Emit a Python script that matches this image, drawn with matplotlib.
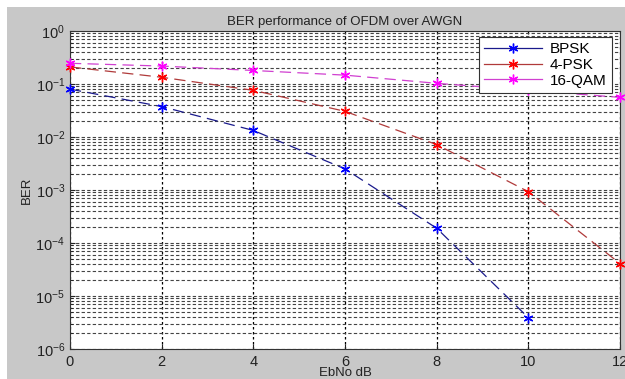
import matplotlib
matplotlib.use("Agg")
import matplotlib.pyplot as plt
from matplotlib.lines import Line2D
from matplotlib.patches import Rectangle
import numpy as np

plt.rcParams['font.family'] = ['Liberation Sans', 'DejaVu Sans']
plt.rcParams['mathtext.fontset'] = 'custom'
plt.rcParams['mathtext.rm'] = 'Liberation Sans'

ebno = [0, 2, 4, 6, 8, 10, 12]
ebno_bpsk = [0, 2, 4, 6, 8, 10]
ber_bpsk = [0.080, 0.0375, 0.0133, 0.0025, 1.9e-4, 3.9e-6]
ber_4psk = [0.21, 0.134, 0.076, 0.0305, 0.0072, 9.3e-4, 4.1e-5]
ber_16qam = [0.246, 0.218, 0.18, 0.147, 0.103, 0.076, 0.056]
labels = ["BPSK", "4-PSK", "16-QAM"]
xticks = [0, 2, 4, 6, 8, 10, 12]

fig = plt.figure(figsize=(6.25, 3.79), dpi=100)
fig.patch.set_facecolor('white')
fig.patches.append(Rectangle((7/625, 0), 1, (379-7)/379, transform=fig.transFigure,
                             facecolor='#c8c8c8', edgecolor='none', zorder=-10))

ax = fig.add_axes([70/625, (379-349)/379, (620-70)/625, (349-31)/379])
ax.set_facecolor('white')

ast = (6, 2, 0)
line_specs = [
    (ebno_bpsk, ber_bpsk, '#1a1a8c', '#0000ff'),
    (ebno, ber_4psk, '#b03a3a', '#ff0000'),
    (ebno, ber_16qam, '#d040d0', '#ff00ff'),
]
for (x, y, lc, mc) in line_specs:
    ax.plot(x, y, linestyle=(0, (9, 5)), color=lc, lw=0.9, marker=ast,
            markersize=7, markeredgewidth=1.0, markeredgecolor=mc, markerfacecolor=mc,
            clip_on=False, zorder=3)

ax.set_yscale('log')
ax.set_xlim(0, 12)
ax.set_ylim(1e-6, 1)
ax.set_xticks(xticks)
ax.set_xticklabels([str(t) for t in xticks])
ax.set_yticks([10.0**k for k in range(-6, 1)])
ax.set_yticklabels([r'$\mathregular{10^{%d}}$' % k for k in range(-6, 1)])
ax.tick_params(axis='both', which='both', direction='in', labelsize=10.5, colors='#222222')
ax.tick_params(axis='y', which='minor', length=2)
ax.tick_params(axis='x', pad=4)

ax.yaxis.grid(True, which='both', linestyle=(0, (3, 2)), color='#444444', lw=0.8)
ax.xaxis.grid(True, which='major', linestyle=(0, (2, 2)), color='black', lw=0.9)
for s in ax.spines.values():
    s.set_color('#333333')
    s.set_linewidth(0.8)

ax.set_title('BER performance of OFDM over AWGN', fontsize=9.5, pad=4, color='#222222')
ax.set_xlabel('EbNo dB', fontsize=9.5, labelpad=-1, color='#222222')
ax.set_ylabel('BER', fontsize=9.5, labelpad=2, color='#222222')

handles = [Line2D([0], [0], color=lc, lw=0.9, marker=ast, markersize=7, markeredgewidth=1.0,
                  markeredgecolor=mc, markerfacecolor=mc)
           for (_, _, lc, mc) in line_specs]
leg = ax.legend(handles, labels, loc='upper right', bbox_to_anchor=(0.985, 0.982),
                borderaxespad=0, fontsize=11, fancybox=False, framealpha=1,
                edgecolor='#333333', handlelength=3.8, borderpad=0.35,
                labelspacing=0.12, handletextpad=0.5)
leg.get_frame().set_linewidth(0.8)

fig.savefig('out.png', dpi=100, facecolor=fig.get_facecolor())
